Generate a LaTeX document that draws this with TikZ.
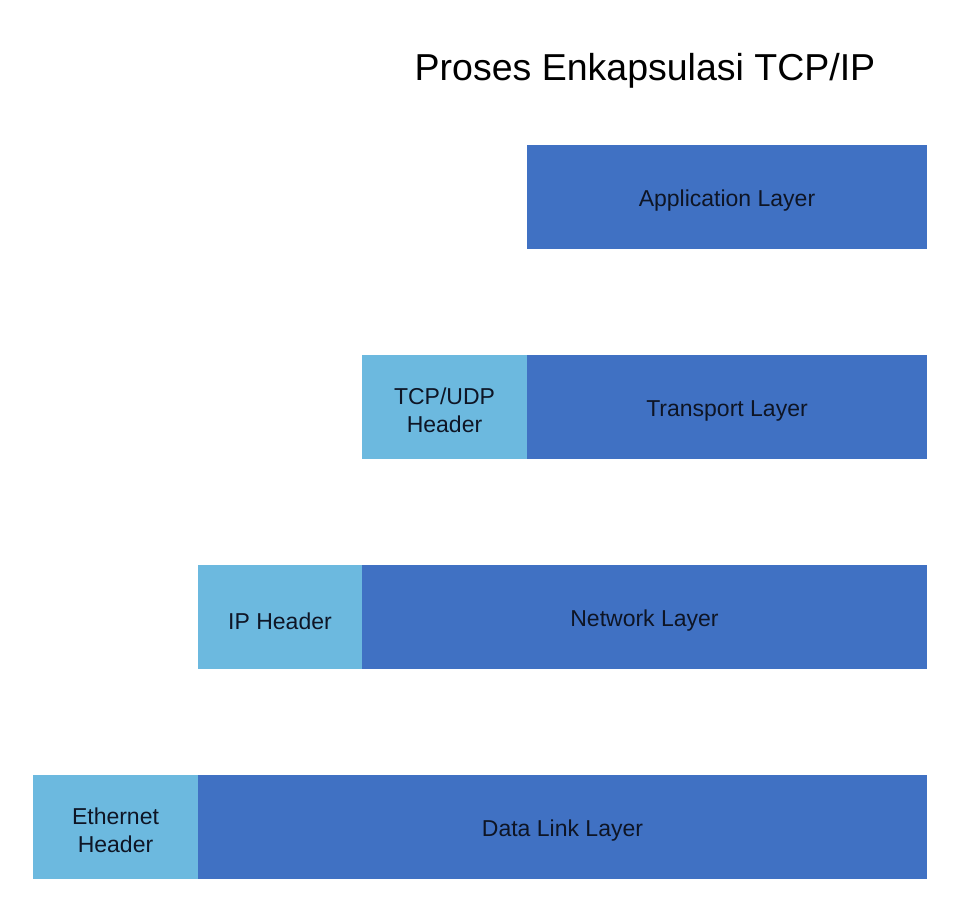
\documentclass[tikz,border=0pt]{standalone}
\usepackage{fontspec}
\setmainfont{Liberation Sans}
\definecolor{darkblue}{HTML}{4071C3}
\definecolor{lightblue}{HTML}{6CB9DF}
\definecolor{txt}{HTML}{0E1525}
\begin{document}
\begin{tikzpicture}[x=1pt,y=-1pt,
  layerbox/.style={fill=darkblue,draw=none},
  hdrbox/.style={fill=lightblue,draw=none},
  lbl/.style={text=txt,font=\fontsize{23}{28}\selectfont,align=center}]
\path[use as bounding box,fill=white] (0,0) rectangle (959,912);
\node[font=\fontsize{37.5}{42}\selectfont,text=black,anchor=base] (title) at (645,81) {Proses Enkapsulasi TCP/IP};
% Application
\path[layerbox] (527,145) rectangle (927,249);
\node[lbl] (app) at (727,201) {Application Layer};
% Transport
\path[hdrbox] (362,355) rectangle (527,459);
\node[lbl] (tcph) at (444.5,410) {TCP/UDP\\Header};
\path[layerbox] (527,355) rectangle (927,459);
\node[lbl] (trans) at (727,411) {Transport Layer};
% Network
\path[hdrbox] (198,565) rectangle (362,669);
\node[lbl] (iph) at (280,621) {IP Header};
\path[layerbox] (362,565) rectangle (927,669);
\node[lbl] (net) at (644.5,621) {Network Layer};
% Data link
\path[hdrbox] (33,775) rectangle (198,879);
\node[lbl] (ethh) at (115.5,830) {Ethernet\\Header};
\path[layerbox] (198,775) rectangle (927,879);
\node[lbl] (dl) at (562.5,831) {Data Link Layer};
\end{tikzpicture}
\end{document}
